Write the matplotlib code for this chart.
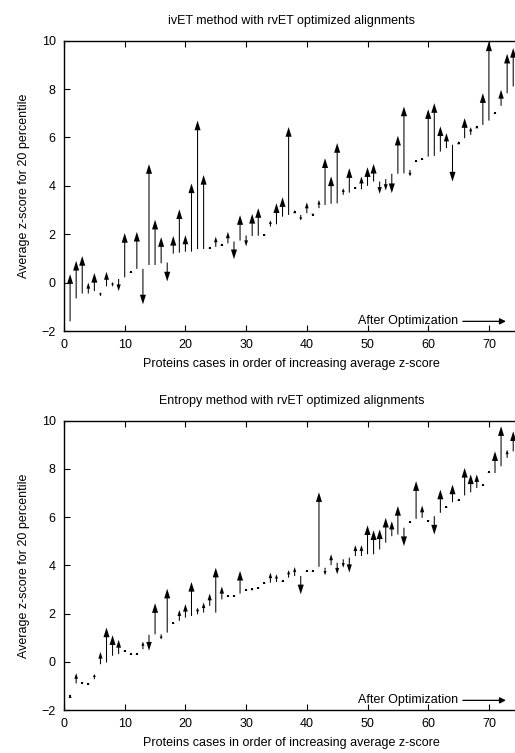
import matplotlib
matplotlib.use("Agg")
import matplotlib.pyplot as plt
import numpy as np

plt.rcParams['font.family'] = ['Liberation Sans', 'DejaVu Sans']
plt.rcParams['font.size'] = 9

proteins = np.arange(1, 75)

# ivET method: score before and after rvET optimization
ivet_before = [-1.6, -0.65, -0.45, -0.45, -0.35, -0.55, -0.15, -0.15, 0.15, 0.22,
               0.4, 0.57, 0.57, 0.73, 0.73, 0.8, 0.83, 1.2, 1.24, 1.28,
               1.28, 1.39, 1.39, 1.42, 1.48, 1.52, 1.62, 1.7, 1.74, 1.95,
               1.93, 1.94, 1.95, 2.32, 2.41, 2.73, 2.8, 2.87, 2.8, 2.87,
               2.85, 3.08, 3.21, 3.26, 3.28, 3.63, 3.72, 3.9, 3.86, 4.0,
               4.18, 4.18, 4.28, 4.5, 4.5, 4.52, 4.66, 5.0, 5.09, 5.21,
               5.24, 5.42, 5.56, 5.7, 5.72, 5.97, 6.11, 6.38, 6.52, 6.7,
               6.97, 7.31, 7.83, 8.11]
ivet_after = [0.35, 0.9, 1.1, 0.0, 0.4, -0.4, 0.45, 0.02, -0.35, 2.05,
              0.46, 2.1, -0.9, 4.9, 2.6, 1.88, 0.05, 1.93, 3.03, 1.96,
              4.1, 6.7, 4.45, 1.48, 1.9, 1.62, 2.1, 0.97, 2.79, 1.5,
              2.84, 3.08, 2.02, 2.57, 3.28, 3.53, 6.43, 3.0, 2.57, 3.32,
              2.75, 3.42, 5.14, 4.39, 5.77, 3.9, 4.73, 3.96, 4.39, 4.77,
              4.91, 3.67, 3.81, 3.7, 6.07, 7.28, 4.39, 5.06, 5.15, 7.17,
              7.42, 6.46, 6.18, 4.18, 5.85, 6.8, 6.43, 6.5, 7.83, 9.97,
              7.03, 7.97, 9.46, 9.7]

# Entropy method: score before and after rvET optimization
ent_before = [-1.5, -0.9, -0.88, -0.9, -0.72, -0.1, -0.03, 0.25, 0.32, 0.43,
              0.3, 0.3, 0.52, 1.12, 1.14, 1.14, 1.21, 1.57, 1.7, 1.83,
              1.9, 1.97, 2.04, 2.32, 2.04, 2.59, 2.7, 2.7, 2.83, 2.94,
              2.97, 3.05, 3.25, 3.28, 3.31, 3.32, 3.49, 3.56, 3.56, 3.74,
              3.74, 3.94, 3.9, 4.01, 4.11, 4.25, 4.32, 4.39, 4.39, 4.46,
              4.46, 4.66, 4.94, 5.21, 5.28, 5.56, 5.76, 5.93, 5.97, 5.86,
              6.04, 6.18, 6.4, 6.62, 6.67, 6.9, 7.03, 7.21, 7.32, 7.83,
              7.83, 8.11, 8.46, 8.73]
ent_after = [-1.35, -0.47, -0.84, -0.96, -0.51, 0.41, 1.42, 1.1, 0.91, 0.49,
             0.34, 0.36, 0.84, 0.46, 2.43, 0.93, 3.03, 1.63, 2.15, 2.39,
             3.31, 2.25, 2.46, 2.83, 3.9, 3.12, 2.76, 2.76, 3.77, 3.0,
             3.03, 3.1, 3.31, 3.7, 3.63, 3.38, 3.8, 3.93, 2.8, 3.8,
             3.8, 7.03, 3.59, 4.46, 3.63, 3.9, 3.7, 4.84, 4.84, 5.66,
             5.45, 5.49, 5.97, 5.83, 6.46, 4.8, 5.82, 7.49, 6.48, 5.8,
             5.28, 7.14, 6.46, 7.35, 6.73, 8.04, 7.77, 7.77, 7.38, 7.89,
             8.73, 9.77, 8.8, 9.56]

titles = ["ivET method with rvET optimized alignments",
          "Entropy method with rvET optimized alignments"]


def draw_panel(ax, before, after, title):
    for x, y0, y1 in zip(proteins, before, after):
        dy = y1 - y0
        L = abs(dy)
        if L < 0.15:
            # very short change: head only, kept visible as a small mark
            hl = L
            hw = 0.5
        else:
            hl = min(0.4, 0.55 * L)
            hw = max(hl * 2.5, 0.5)
        ax.arrow(x, y0, 0, dy, length_includes_head=True, width=0.17,
                 head_length=hl, head_width=hw, color="black", lw=0)
        if L < 0.15:
            ax.plot([x], [y0 + dy / 2], marker="s", ms=2, color="black", mew=0)
    ax.set_xlim(0, 75)
    ax.set_ylim(-2, 10)
    ax.set_xticks(range(0, 71, 10))
    ax.set_yticks(range(-2, 11, 2))
    ax.tick_params(direction="in", top=True, right=False, length=4, pad=6)
    for s in ax.spines.values():
        s.set_linewidth(1.0)
    ax.set_title(title, fontsize=9, pad=12)
    ax.set_xlabel("Proteins cases in order of increasing average z-score", labelpad=5)
    ax.set_ylabel("Average z-score for 20 percentile", labelpad=8)
    ax.text(65, -1.6, "After Optimization", ha="right", va="center")
    ax.annotate("", xy=(72.8, -1.6), xytext=(65.7, -1.6),
                arrowprops=dict(arrowstyle="-|>", color="black", lw=0.9,
                                mutation_scale=9, shrinkA=0, shrinkB=0))


fig = plt.figure(figsize=(5.15, 7.53), dpi=100)
ax1 = fig.add_axes([0.1243, 0.5604, 0.884, 0.3855])
ax2 = fig.add_axes([0.1243, 0.0571, 0.884, 0.3842])
draw_panel(ax1, ivet_before, ivet_after, titles[0])
draw_panel(ax2, ent_before, ent_after, titles[1])

fig.savefig("out.png", dpi=100)
